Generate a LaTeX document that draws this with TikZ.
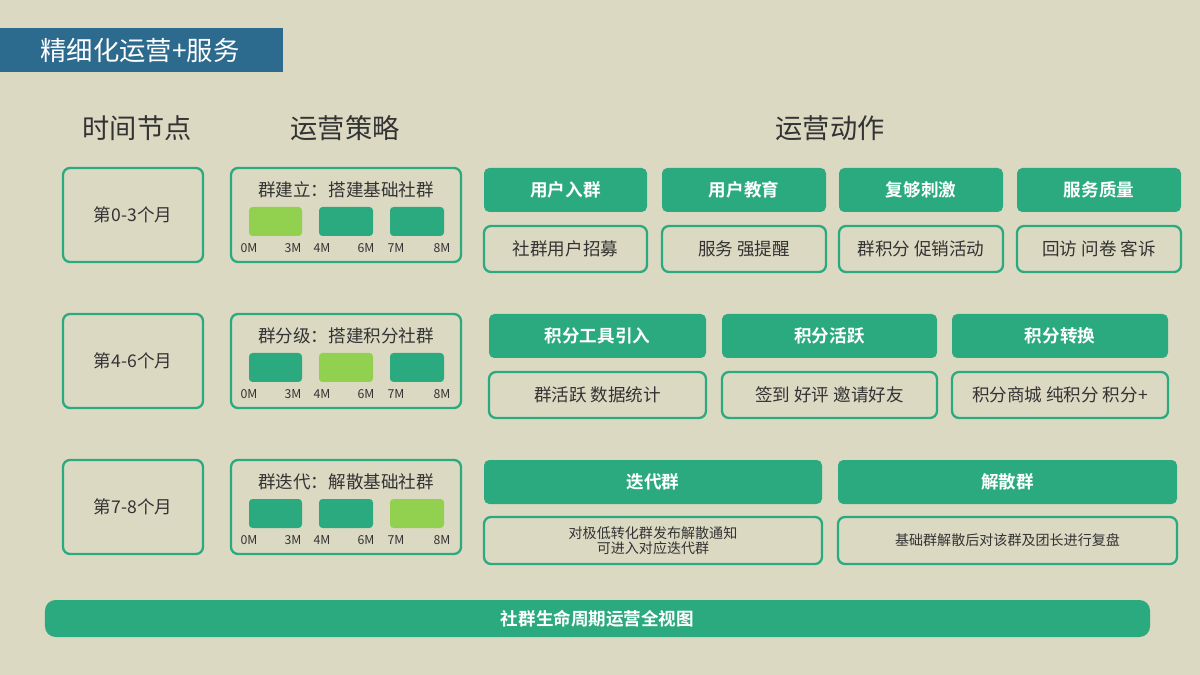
\documentclass[tikz,border=0pt]{standalone}
\usepackage{fontspec}
\setmainfont{Noto Sans CJK SC}
\newfontfamily\cjkb{Noto Sans CJK SC Bold}
\definecolor{bg}{HTML}{DCD9C3}
\definecolor{gr}{HTML}{2BAA7F}
\definecolor{lg}{HTML}{92D050}
\definecolor{tb}{HTML}{2C6A8E}
\definecolor{tx}{HTML}{333333}
\newcommand\bx[7]{\pgfmathsetmacro\bw{((#4)-(#2))*0.02}\pgfmathsetmacro\bh{((#5)-(#3))*0.02}%
\node[#6,minimum width=\bw cm,minimum height=\bh cm] (#1) at ({((#2)+(#4))/2},{((#3)+(#5))/2}) {#7};}
\begin{document}
\begin{tikzpicture}[x=0.02cm,y=-0.02cm,
 every node/.style={inner sep=0pt,outer sep=0pt,text=tx},
 outl/.style={draw=gr,line width=1.3pt,rounded corners=4pt,font=\fontsize{10}{11}\selectfont},
 fill1/.style={fill=gr,rounded corners=3pt,text=white,font=\cjkb\fontsize{10}{11}\selectfont},
 bar/.style={fill=gr,rounded corners=2pt},
 lbar/.style={fill=lg,rounded corners=2pt},
 ml/.style={font=\fontsize{7}{8}\selectfont},
 hd/.style={font=\fontsize{15.5}{17}\selectfont}]
\fill[bg] (0,0) rectangle (1200,675);
\useasboundingbox (0,0) rectangle (1200,675);
\bx{title}{0}{28}{283}{72}{fill=tb}{}
\node[text=white,font=\fontsize{15}{16}\selectfont] (tt) at (140,50) {精细化运营+服务};
\node[hd] (h1) at (137,128) {时间节点};
\node[hd] (h2) at (345,128) {运营策略};
\node[hd] (h3) at (830,128) {运营动作};
% rows
\foreach \r/\y/\tt/\st/\a/\b/\c in {1/168/第0-3个月/群建立：搭建基础社群/lbar/bar/bar,
 2/314/第4-6个月/群分级：搭建积分社群/bar/lbar/bar,
 3/460/第7-8个月/群迭代：解散基础社群/bar/bar/lbar}{
 \bx{t\r}{63}{\y}{203}{\y+94}{outl}{\tt}
 \bx{s\r}{231}{\y}{461}{\y+94}{outl}{}
 \node[font=\fontsize{10}{11}\selectfont] (st\r) at (346,\y+22) {\st};
 \bx{ba\r}{249}{\y+39}{302}{\y+68}{\a}{}
 \bx{bb\r}{319}{\y+39}{373}{\y+68}{\b}{}
 \bx{bc\r}{390}{\y+39}{444}{\y+68}{\c}{}
 \node[ml] at (249,\y+80) {0M};
 \node[ml] at (293,\y+80) {3M};
 \node[ml] at (322,\y+80) {4M};
 \node[ml] at (366,\y+80) {6M};
 \node[ml] at (396,\y+80) {7M};
 \node[ml] at (442,\y+80) {8M};
}
% row1 actions
\foreach \i/\xa/\xb/\h/\t in {1/484/647/用户入群/社群用户招募,2/662/826/用户教育/服务 强提醒,3/839/1003/复够刺激/群积分 促销活动,4/1017/1181/服务质量/回访 问卷 客诉}{
 \bx{ah1\i}{\xa}{168}{\xb}{212}{fill1}{\h}
 \bx{at1\i}{\xa}{226}{\xb}{272}{outl}{\t}
}
\foreach \i/\xa/\xb/\h/\t in {1/489/706/积分工具引入/群活跃 数据统计,2/722/937/积分活跃/签到 好评 邀请好友,3/952/1168/积分转换/积分商城 纯积分 积分+}{
 \bx{ah2\i}{\xa}{314}{\xb}{358}{fill1}{\h}
 \bx{at2\i}{\xa}{372}{\xb}{418}{outl}{\t}
}
\bx{ah31}{484}{460}{822}{504}{fill1}{迭代群}
\bx{at31}{484}{517}{822}{564}{outl,align=center,font=\fontsize{8}{8.5}\selectfont}{对极低转化群发布解散通知\\可进入对应迭代群}
\bx{ah32}{838}{460}{1177}{504}{fill1}{解散群}
\bx{at32}{838}{517}{1177}{564}{outl,font=\fontsize{8}{9}\selectfont}{基础群解散后对该群及团长进行复盘}
\bx{foot}{45}{600}{1150}{637}{fill1,rounded corners=6pt}{社群生命周期运营全视图}
\end{tikzpicture}
\end{document}
